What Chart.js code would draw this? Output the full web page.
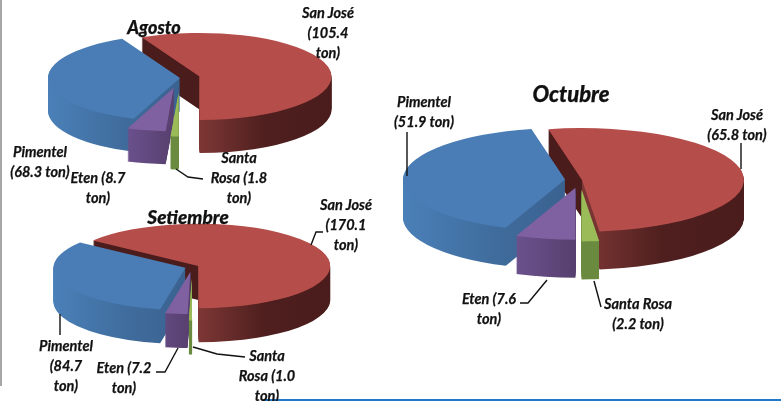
<!DOCTYPE html>
<html>
<head>
<meta charset="utf-8">
<script src="https://cdn.jsdelivr.net/npm/chart.js@4"></script>
<style>
  html, body { margin: 0; padding: 0; background: #fff; }
  #page { position: relative; width: 781px; height: 401px; overflow: hidden; }
  canvas { position: absolute; filter: blur(0.5px); }
  svg { position: absolute; left: 0; top: 0; }
  .lbl, .ttl {
    position: absolute; text-align: center; color: #111;
    font-family: Lato, "Open Sans", sans-serif; font-style: italic; font-weight: 700;
    -webkit-text-stroke: 0.25px #111;
    filter: blur(0.3px);
  }
  .lbl { font-size: 14.5px; line-height: 20px; }
  .ttl { font-weight: 900; white-space: nowrap; }
</style>
</head>
<body>
<div id="page">
  <div style="position:absolute;left:0;top:0;width:2px;height:386px;background:#a6a6a6"></div>
  <div style="position:absolute;left:263px;top:399px;width:518px;height:2px;background:#1f78c8"></div>
  <svg id="leaders" width="781" height="401"></svg>
</div>
<script>
// data, same order for every month
const categories = ['San José', 'Santa Rosa', 'Eten', 'Pimentel'];
const months = ['Agosto', 'Setiembre', 'Octubre'];
const agosto = [105.4, 1.8, 8.7, 68.3];
const setiembre = [170.1, 1.0, 7.2, 84.7];
const octubre = [65.8, 2.2, 7.6, 51.9];

const topColors = ['#b54d4a', '#9bbb59', '#7f60a0', '#4a7db5'];
// side wall gradients, 0..1 runs from left to right across the pie
const sideStops = [
  [[0, '#4a1c1b'], [0.499, '#4a1c1b'], [0.5, '#7d3735'], [0.75, '#4e1f1e'], [1, '#4a1c1b']],
  [[0, '#6a8a3f'], [1, '#6a8a3f']],
  [[0.3, '#6d5390'], [0.5, '#573f6e']],
  [[0, '#4a80b8'], [0.3, '#3f6b9b'], [0.5, '#3a6291']]
];
const drawOrder = [0, 3, 2, 1];

// per pie layout
const pies = [
  { values: agosto, cx: 180, cy: 78, r: 132, squash: 0.33, depth: 33, rotation: -26, explode: [20, 45, 30, 0] },
  { values: setiembre, cx: 192, cy: 267, r: 132, squash: 0.32, depth: 34, rotation: -53, explode: [7, 35, 15, 7] },
  { values: octubre, cx: 580, cy: 180, r: 162, squash: 0.32, depth: 38, rotation: -12, explode: [2, 30, 25, 15] }
];

const titles = [
  { x: 154, y: 28, size: 18 },
  { x: 188, y: 217, size: 19 },
  { x: 571, y: 94, size: 22 }
];

// label spots per month, in category order
const labelSpots = [
  [{ x: 328, y: 13, w: 60 }, { x: 239, y: 158, w: 66 }, { x: 98, y: 178, w: 66 }, { x: 40, y: 152, w: 78 }],
  [{ x: 346, y: 205, w: 60 }, { x: 267, y: 356, w: 66 }, { x: 124, y: 368, w: 66 }, { x: 66, y: 346, w: 60 }],
  [{ x: 737, y: 115, w: 78 }, { x: 638, y: 304, w: 84 }, { x: 489, y: 299, w: 66 }, { x: 424, y: 102, w: 78 }]
];

const leaderLines = [
  '176,169 188,177 203,179',
  '311,245 316,232 323,232',
  '60,314 60,335',
  '178,348 165,372 156,372',
  '193,347 217,354 245,357',
  '407,132 407,176',
  '741,143 741,169',
  '547,280 528,303 520,303',
  '594,281 601,307'
];

const page = document.getElementById('page');

function pie3dPlugin(cfg) {
  return {
    id: 'pie3d',
    beforeDatasetsDraw(chart) {
      const ctx = chart.ctx;
      const arcs = chart.getDatasetMeta(0).data;
      drawOrder.forEach(i => {
        const arc = arcs[i];
        const mid = (arc.startAngle + arc.endAngle) / 2;
        const base = arc.options;
        const grad = ctx.createLinearGradient(arc.x - cfg.r, 0, arc.x + cfg.r, 0);
        sideStops[i].forEach(s => grad.addColorStop(s[0], s[1]));
        for (let dy = cfg.depth; dy >= 0; dy--) {
          arc.options = Object.assign({}, base, { backgroundColor: dy === 0 ? topColors[i] : grad });
          ctx.save();
          ctx.translate(arc.x, arc.y + dy);
          ctx.scale(1, cfg.squash);
          ctx.translate(-arc.x, -arc.y);
          ctx.translate(Math.cos(mid) * cfg.explode[i], Math.sin(mid) * cfg.explode[i]);
          arc.draw(ctx);
          ctx.restore();
        }
        arc.options = base;
      });
      return false;
    }
  };
}

pies.forEach((cfg, n) => {
  const size = 2 * (cfg.r + 60);
  const canvas = document.createElement('canvas');
  canvas.width = size;
  canvas.height = size;
  canvas.style.left = (cfg.cx - size / 2) + 'px';
  canvas.style.top = (cfg.cy - size / 2) + 'px';
  page.insertBefore(canvas, document.getElementById('leaders'));
  new Chart(canvas.getContext('2d'), {
    type: 'pie',
    data: {
      labels: categories,
      datasets: [{ data: cfg.values, backgroundColor: topColors, borderWidth: 0 }]
    },
    options: {
      responsive: false,
      animation: false,
      radius: cfg.r,
      rotation: cfg.rotation,
      plugins: { legend: { display: false }, tooltip: { enabled: false } }
    },
    plugins: [pie3dPlugin(cfg)]
  });

  const t = document.createElement('div');
  t.className = 'ttl';
  t.textContent = months[n];
  t.style.cssText = `left:${titles[n].x - 60}px;width:120px;top:${titles[n].y - titles[n].size * 0.65}px;font-size:${titles[n].size}px;`;
  page.appendChild(t);

  categories.forEach((cat, i) => {
    const spot = labelSpots[n][i];
    const d = document.createElement('div');
    d.className = 'lbl';
    d.textContent = `${cat} (${cfg.values[i].toFixed(1)} ton)`;
    d.style.cssText = `left:${spot.x - spot.w / 2}px;width:${spot.w}px;top:${spot.y - 10}px;`;
    page.appendChild(d);
  });
});

document.getElementById('leaders').innerHTML = leaderLines
  .map(p => `<polyline points="${p}" fill="none" stroke="#111" stroke-width="1.4"/>`).join('');
</script>
</body>
</html>
